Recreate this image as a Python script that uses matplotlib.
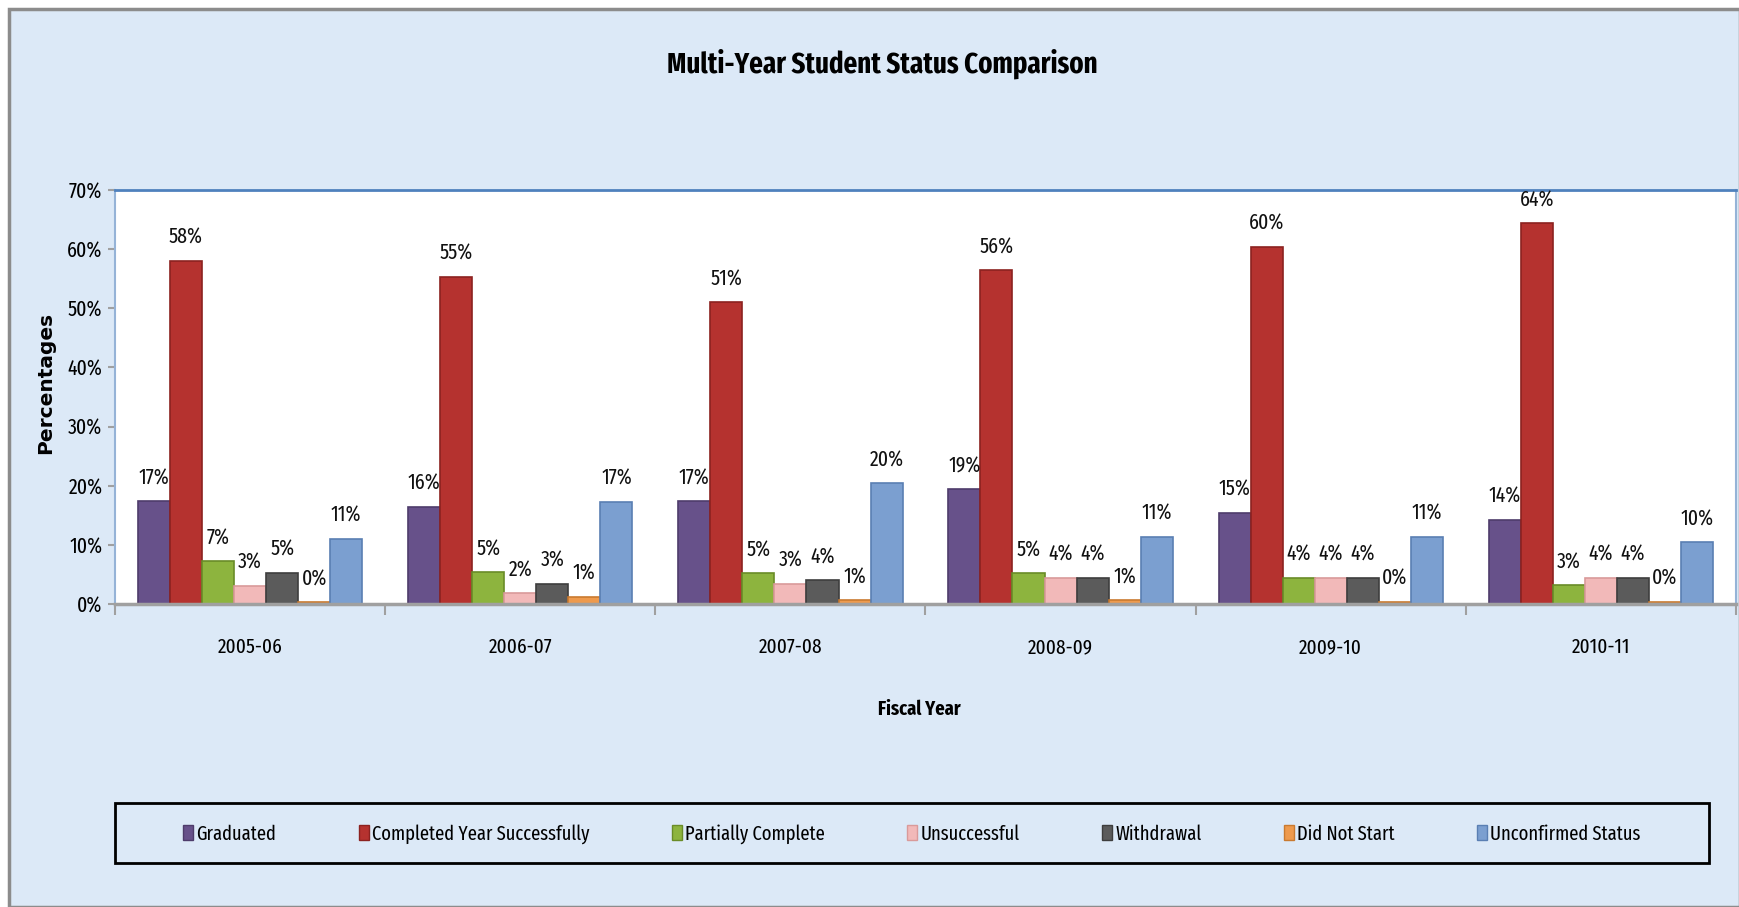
import matplotlib
matplotlib.use('Agg')
import matplotlib.pyplot as plt
import numpy as np
from matplotlib.patches import Rectangle, Patch
from matplotlib import font_manager

# ---------------- data ----------------
years = ['2005-06', '2006-07', '2007-08', '2008-09', '2009-10', '2010-11']
series_names = ['Graduated', 'Completed Year Successfully', 'Partially Complete',
                'Unsuccessful', 'Withdrawal', 'Did Not Start', 'Unconfirmed Status']
graduated    = [17.4, 16.4, 17.4, 19.4, 15.4, 14.2]
completed    = [58.0, 55.3, 51.0, 56.4, 60.4, 64.4]
partial      = [7.2, 5.4, 5.2, 5.2, 4.4, 3.2]
unsuccessful = [3.1, 1.8, 3.4, 4.4, 4.4, 4.4]
withdrawal   = [5.3, 3.4, 4.0, 4.4, 4.4, 4.4]
not_started  = [0.3, 1.2, 0.6, 0.6, 0.4, 0.4]
unconfirmed  = [11.0, 17.3, 20.4, 11.4, 11.4, 10.4]
yticks = [0, 10, 20, 30, 40, 50, 60, 70]

series_values = [graduated, completed, partial, unsuccessful, withdrawal, not_started, unconfirmed]
colors = ['#67518a', '#b5322f', '#8db43e', '#f2b9b9', '#5b5b5b', '#ee9a4d', '#7b9fd0']
edges  = ['#4e3c6b', '#8c2220', '#6a8c28', '#d99a9a', '#3e3e3e', '#c97a30', '#5a7fb3']

avail = {f.name for f in font_manager.fontManager.ttflist}


def pick(cands):
    for c in cands:
        if c in avail:
            return [c, 'DejaVu Sans']
    return ['DejaVu Sans']


COND = pick(['Fira Sans Extra Condensed', 'Roboto Condensed', 'Open Sans Condensed', 'Carlito'])

W, H = 1740, 907
fig = plt.figure(figsize=(W / 100, H / 100), dpi=100, facecolor='white')

# chart area background
fig.patches.append(Rectangle((9 / W, 0), 1 - 9 / W, 1 - 9 / H, transform=fig.transFigure,
                             facecolor='#dce9f7', edgecolor='#8c8c8c', lw=2.5, zorder=-10))

ax = fig.add_axes([115 / W, 1 - 604 / H, (1736 - 115) / W, (604 - 190) / H])
ax.set_zorder(1)
ax.set_facecolor('white')
ax.set_xlim(0, len(years))
ax.set_ylim(0, 70)

n = len(series_names)
bw = 0.1187
x = np.arange(len(years))
for j, (name, vals) in enumerate(zip(series_names, series_values)):
    xc = x + 0.5 + (j - (n - 1) / 2) * bw
    ax.bar(xc, vals, width=bw, color=colors[j], edgecolor=edges[j], linewidth=1.2,
           label=name, zorder=3)
    for xi, v in zip(xc, vals):
        ax.annotate(f'{v:.0f}%', (xi, v), xytext=(0, 9), textcoords='offset points',
                    ha='center', va='bottom', fontsize=15.5, family=COND, color='#111111',
                    zorder=4, annotation_clip=False)

# spines
ax.spines['top'].set_color('#4f81bd')
ax.spines['top'].set_linewidth(2)
ax.spines['right'].set_color('#95b3d7')
ax.spines['right'].set_linewidth(1.5)
ax.spines['left'].set_color('#95b3d7')
ax.spines['left'].set_linewidth(1.5)
ax.spines['bottom'].set_color('#a0a0a0')
ax.spines['bottom'].set_linewidth(2.5)
ax.spines['bottom'].set_zorder(5)

# x ticks: major ticks at category boundaries, labels at centers
ax.set_xticks(np.arange(len(years) + 1))
ax.set_xticklabels([])
ax.tick_params(axis='x', which='major', length=8, width=1.5, color='#a0a0a0', direction='out')
ax.set_xticks(x + 0.5, minor=True)
ax.set_xticklabels(years, minor=True, fontsize=15, family=COND)
ax.tick_params(axis='x', which='minor', length=0, pad=24)

ax.set_yticks(yticks)
ax.set_yticklabels([f'{t}%' for t in yticks], fontsize=15.5, family=COND)
ax.tick_params(axis='y', length=5, width=1.5, color='#a0a0a0', direction='out', pad=4)

# texts
fig.text(882 / W, 1 - 73 / H, 'Multi-Year Student Status Comparison', ha='center',
         va='baseline', fontsize=21, fontweight='bold', family=COND)
fig.text(919 / W, 1 - 709 / H, 'Fiscal Year', ha='center', va='center',
         fontsize=14.5, fontweight='bold', family=COND)
fig.text(46 / W, 1 - 383 / H, 'Percentages', ha='center', va='center', rotation=90,
         fontsize=14.5, fontweight='bold', family=['DejaVu Sans'])

# legend
fig.patches.append(Rectangle((115 / W, 1 - 863 / H), (1709 - 115) / W, 60 / H,
                             transform=fig.transFigure, facecolor='none', edgecolor='black',
                             lw=2, zorder=2))
handles = [Patch(facecolor=colors[j], edgecolor=edges[j]) for j in range(n)]
fig.legend(handles, series_names, ncol=n, loc='center', bbox_to_anchor=(912 / W, 1 - 834 / H),
           frameon=False, prop={'family': COND, 'size': 14.5}, handlelength=0.5,
           handleheight=0.75, handletextpad=0.15, columnspacing=4.1)

fig.savefig('out.png', dpi=100, facecolor='white')
